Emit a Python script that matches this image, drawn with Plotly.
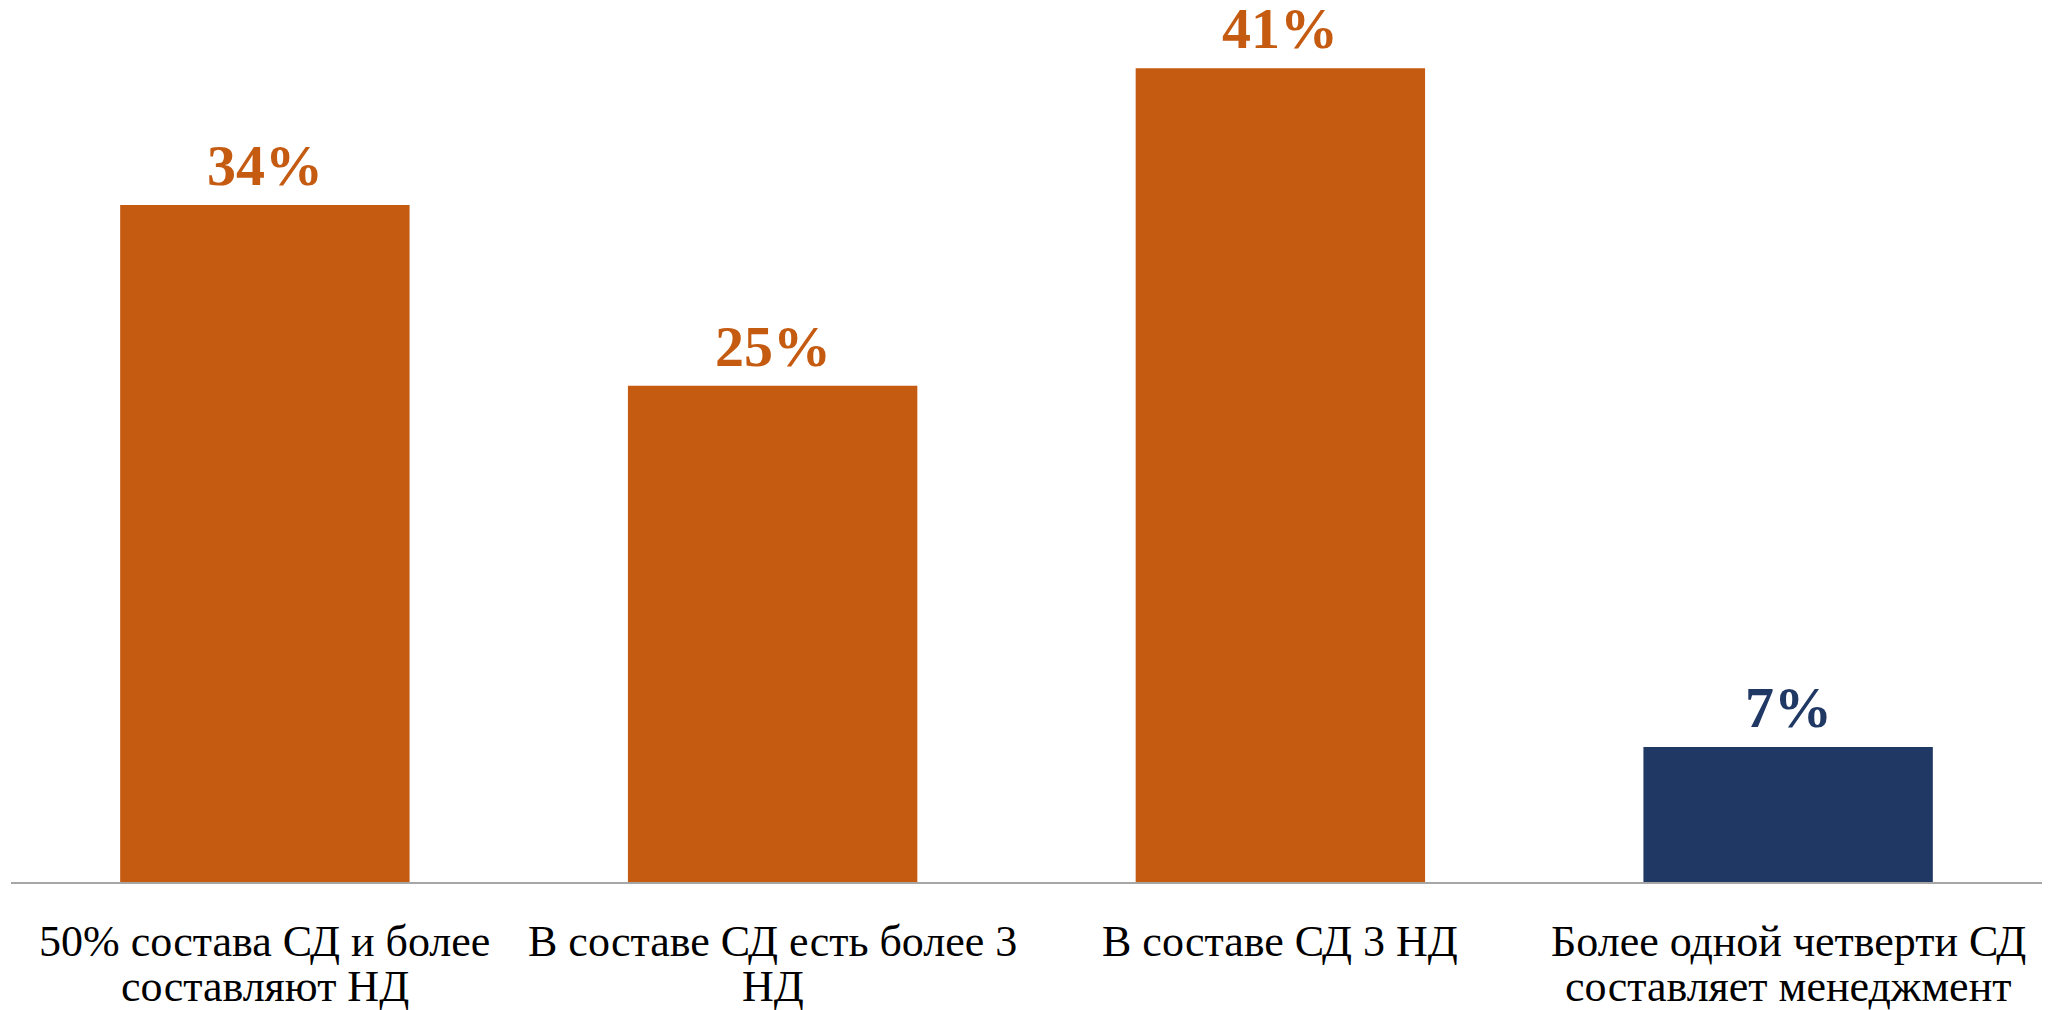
import plotly.graph_objects as go

categories = ["c1", "c2", "c3", "c4"]
label_line1 = [
    "50% состава СД и более",
    "В составе СД есть более 3",
    "В составе СД 3 НД",
    "Более одной четверти СД",
]
label_line2 = [
    "составляют НД",
    "НД",
    "",
    "составляет менеджмент",
]
values = [0.341, 0.25, 0.41, 0.068]
labels = ["34%", "25%", "41%", "7%"]
colors = ["#C55A11", "#C55A11", "#C55A11", "#203864"]

fig = go.Figure()
fig.add_trace(go.Bar(
    x=categories, y=values, marker=dict(color=colors, line=dict(width=0)),
    hoverinfo="skip",
))

for c, v, t, col in zip(categories, values, labels, colors):
    fig.add_annotation(
        x=c, y=v, text=f"<b>{t}</b>", showarrow=False,
        xanchor="center", yanchor="bottom", yshift=5,
        font=dict(family="Liberation Serif", size=58, color=col),
    )

for c, l1, l2 in zip(categories, label_line1, label_line2):
    fig.add_annotation(
        x=c, y=0, text=l1, showarrow=False,
        xanchor="center", yanchor="middle", yshift=-59,
        font=dict(family="Liberation Serif", size=44, color="black"),
    )
    if l2:
        fig.add_annotation(
            x=c, y=0, text=l2, showarrow=False,
            xanchor="center", yanchor="middle", yshift=-104,
            font=dict(family="Liberation Serif", size=44, color="black"),
        )

fig.update_layout(
    width=2056, height=1010,
    margin=dict(l=3, r=22, t=0, b=136),
    plot_bgcolor="white", paper_bgcolor="white",
    bargap=0.43, showlegend=False,
)
fig.update_xaxes(
    showline=True, linecolor="#A6A6A6", linewidth=2,
    showticklabels=False, ticks="",
)
fig.update_yaxes(range=[0, 0.4403], visible=False, showgrid=False)
fig.write_html("out.html")
